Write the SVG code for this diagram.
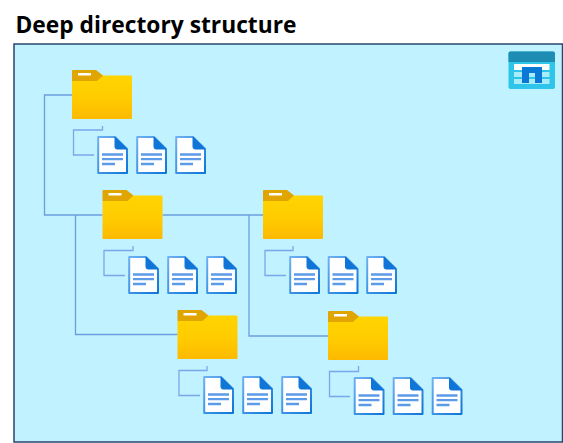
<svg xmlns="http://www.w3.org/2000/svg" width="563" height="443" viewBox="0 0 563 443">
<style>
.c{fill:none;stroke:#6b9ee0;stroke-width:1.300}
.c2{fill:none;stroke:#78a8ea;stroke-width:1.300}
.t{font-family:"Open Sans","Noto Sans","Liberation Sans",sans-serif;font-weight:700;font-size:23.500px;fill:#000}
</style>
<defs>
<linearGradient id="fg" x1="0" y1="0" x2="0" y2="1"><stop offset="0" stop-color="#ffd400"/><stop offset="0.55" stop-color="#ffcb00"/><stop offset="1" stop-color="#fdb900"/></linearGradient>
<linearGradient id="ds" x1="0" y1="0" x2="1" y2="1"><stop offset="0" stop-color="#6eb0f2"/><stop offset="1" stop-color="#0f76d8"/></linearGradient>
<g id="folder">
<path d="M0 11H24L30 5.500H59Q60 5.500 60 6.500V48Q60 49 59 49H1Q0 49 0 48Z" fill="url(#fg)"/>
<path d="M0 1Q0 0 1 0H24L31 5.500L25 11H0Z" fill="#e0a500"/>
<rect x="6" y="3" width="13" height="2.500" fill="#fff"/>
</g>
<g id="doc">
<path d="M1.200 1H18L30 13V37H1.200Z" fill="#fff" stroke="url(#ds)" stroke-width="2" stroke-linejoin="round"/>
<path d="M18 1V11Q18 13 20 13H30Z" fill="#0f76d8" stroke="#0f76d8" stroke-width="1" stroke-linejoin="round"/>
<path d="M5 18.500H26M5 23.200H26M5 28H18" stroke="#5c9be8" stroke-width="2.300" fill="none"/>
</g>
</defs>
<rect width="563" height="443" fill="#fff"/>
<text class="t" x="15.500" y="33" textLength="281" lengthAdjust="spacingAndGlyphs">Deep directory structure</text>
<rect id="frame" x="14" y="44" width="548.500" height="398" fill="#c0f2ff" stroke="#27456e" stroke-width="1.500"/>
<g id="connectors">
<path class="c" d="M72 95H44.500V215H102.500"/>
<path class="c" d="M75.500 215V334.500H177.500"/>
<path class="c" d="M162.500 215H263"/>
<path class="c" d="M249 215V336H328"/>
<path class="c2" d="M102.500 126V130H73.500V155H94"/>
<path class="c2" d="M133 246V250.500H104V275.500H125"/>
<path class="c2" d="M293 246V250.500H265V275.500H286"/>
<path class="c2" d="M207 366V370.500H179V395.500H200"/>
<path class="c2" d="M358.500 366V371.500H329.500V396.500H350"/>
</g>
<g id="storage-icon">
<rect x="508.500" y="51.500" width="46.500" height="37.500" rx="2" fill="#2fc5ea"/>
<path d="M508.500 53.500Q508.500 51.500 510.500 51.500H553Q555 51.500 555 53.500V62H508.500Z" fill="#1f8cb4"/>
<rect x="514" y="64" width="35.500" height="6" fill="#fff"/>
<rect x="514" y="72" width="35.500" height="5" fill="#a8ecfa"/>
<rect x="514" y="79" width="35.500" height="5" fill="#a8ecfa"/>
<path d="M522 67H542V83H535V73H529V83H522Z" fill="#0b78d6"/>
</g>
<g id="folder-1"><use href="#folder" x="72" y="70"/></g>
<g id="folder-2"><use href="#folder" x="102.500" y="190"/></g>
<g id="folder-3"><use href="#folder" x="263" y="190"/></g>
<g id="folder-4"><use href="#folder" x="177.500" y="310"/></g>
<g id="folder-5"><use href="#folder" x="328" y="311"/></g>
<g id="files-1"><use href="#doc" x="97" y="136"/><use href="#doc" x="136" y="136"/><use href="#doc" x="175" y="136"/></g>
<g id="files-2"><use href="#doc" x="128" y="256"/><use href="#doc" x="167" y="256"/><use href="#doc" x="206" y="256"/></g>
<g id="files-3"><use href="#doc" x="289" y="256"/><use href="#doc" x="327.500" y="256"/><use href="#doc" x="366" y="256"/></g>
<g id="files-4"><use href="#doc" x="203" y="376"/><use href="#doc" x="242" y="376"/><use href="#doc" x="281" y="376"/></g>
<g id="files-5"><use href="#doc" x="353.500" y="377"/><use href="#doc" x="392.500" y="377"/><use href="#doc" x="431.500" y="377"/></g>
</svg>
